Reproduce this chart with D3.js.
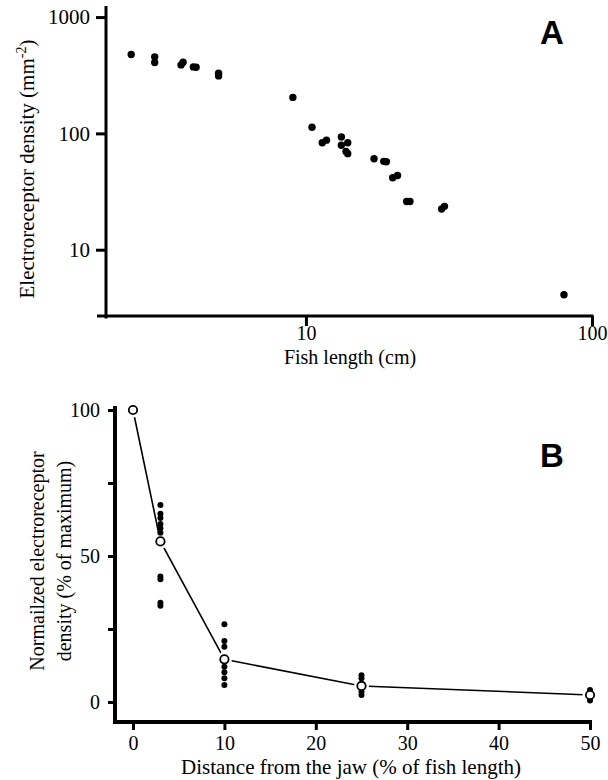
<!DOCTYPE html>
<meta charset="utf-8">
<style>
	body { margin: 0; background: #fff; }
	svg text { font-family: "Liberation Serif", "DejaVu Serif", "Times New Roman", serif; fill: #000; }
	.axis path { display: none; }
	.axis line { stroke: #000; stroke-width: 3px; }
	.axis-line { stroke: #000; }
	svg text.panel { font-family: "Liberation Sans", "DejaVu Sans", Arial, sans-serif; font-weight: bold; font-size: 33px; }
	.mean-line { fill: none; stroke: #000; stroke-width: 1.6px; }
</style>
<svg id="chart" width="608" height="780"></svg>
<script src="https://d3js.org/d3.v7.min.js"></script>
<script>
	// Panel A: receptor density vs fish length (log-log)
	var fishLength = [2.45, 2.96, 2.96, 3.66, 3.72, 4.04, 4.13, 4.95, 4.95, 9.0, 10.5, 11.4, 11.8,
		13.3, 13.3, 14.0, 13.8, 14.0, 17.3, 18.7, 19.1, 20.1, 20.9, 22.5, 23.1, 29.8, 30.5, 79.8];
	var receptorDensity = [477, 455, 407, 388, 409, 373, 370, 329, 312, 204, 113, 83, 87.5,
		93, 79, 83, 70, 67, 60.5, 57.5, 57, 41.5, 43.5, 26, 26, 22.4, 23.6, 4.1];
	var lengthTicks = [10, 100];
	var lengthMinorTicks = [2, 3, 4, 5, 6, 7, 8, 9, 20, 30, 40, 50, 60, 70, 80, 90];
	var densityTicks = [10, 100, 1000];
	var densityMinorTicks = [3, 4, 5, 6, 7, 8, 9, 20, 30, 40, 50, 60, 70, 80, 90, 200, 300, 400, 500, 600, 700, 800, 900];

	// Panel B: normalized density vs distance from jaw
	var distance = [0, 3, 10, 25, 50];
	var meanDensity = [100, 55, 14.6, 5.5, 2.4];
	var fishDensity = [
		[],
		[67.5, 64.5, 63, 61, 59.5, 58, 43, 42, 34, 33],
		[26.6, 20.9, 18.9, 12.1, 10.2, 8.1, 5.8],
		[9.2, 8.1, 3.5, 2.4],
		[4.1, 1.2, 0.5]
	];
	var distanceTicks = [0, 10, 20, 30, 40, 50];
	var normTicks = [0, 25, 50, 75, 100];
	var normLabels = [0, 50, 100];

	var serif = "'Liberation Serif', 'DejaVu Serif', 'Times New Roman', serif";
	var svg = d3.select("#chart");

	// ---------- Panel A ----------
	var xA = d3.scaleLog().domain([2, 100]).range([106, 592]),
		yA = d3.scaleLog().domain([2.64, 1245]).range([317, 6]);
	var axisAY = 316, axisAX = 106;

	var gxA = svg.append("g").attr("class", "axis").attr("transform", "translate(0," + axisAY + ")");
	gxA.call(d3.axisBottom(xA).tickValues(lengthMinorTicks).tickSize(6).tickFormat(""));
	gxA.call(d3.axisBottom(xA).tickValues(lengthTicks).tickSize(10).tickPadding(0).tickFormat(d3.format("d")));

	var gyA = svg.append("g").attr("class", "axis").attr("transform", "translate(" + axisAX + ",0)");
	gyA.call(d3.axisLeft(yA).tickValues(densityMinorTicks).tickSize(6).tickFormat(""));
	gyA.call(d3.axisLeft(yA).tickValues(densityTicks).tickSize(10).tickPadding(6).tickFormat(d3.format("d")));

	svg.selectAll(".axis").attr("font-family", serif);
	gxA.selectAll("text").style("font-family", serif).style("font-size", "20px");
	gyA.selectAll("text").style("font-family", serif).style("font-size", "21px");

	svg.append("line").attr("class", "axis-line")
		.attr("x1", xA.range()[0] - 9).attr("x2", xA.range()[1] + 1.5)
		.attr("y1", axisAY).attr("y2", axisAY)
		.style("stroke-width", 3);
	svg.append("line").attr("class", "axis-line")
		.attr("x1", axisAX).attr("x2", axisAX)
		.attr("y1", yA.range()[1]).attr("y2", yA.range()[0] + 1.5)
		.style("stroke-width", 3);

	svg.append("g").selectAll("circle")
		.data(fishLength)
		.enter().append("circle")
		.attr("cx", function(d) { return xA(d); })
		.attr("cy", function(d, i) { return yA(receptorDensity[i]); })
		.attr("r", 3.7)
		.style("fill", "#000");

	svg.append("text")
		.attr("x", 350).attr("y", 364)
		.attr("text-anchor", "middle")
		.style("font-family", serif)
		.style("font-size", "20px")
		.text("Fish length (cm)");

	var yLabA = svg.append("text")
		.attr("transform", "translate(34,169) rotate(-90)")
		.attr("text-anchor", "middle")
		.style("font-family", serif)
		.style("font-size", "21px");
	yLabA.append("tspan").text("Electroreceptor density (mm");
	yLabA.append("tspan").attr("dy", -8).style("font-size", "14px").text("-2");
	yLabA.append("tspan").attr("dy", 8).text(")");

	svg.append("text").attr("class", "panel")
		.attr("x", 552).attr("y", 44)
		.attr("text-anchor", "middle")
		.text("A");

	// ---------- Panel B ----------
	var xB = d3.scaleLinear().domain([0, 50]).range([133, 590]),
		yB = d3.scaleLinear().domain([0, 100]).range([702, 410]);
	var axisBY = 722, axisBX = 115;

	var gxB = svg.append("g").attr("class", "axis").attr("transform", "translate(0," + axisBY + ")");
	gxB.call(d3.axisBottom(xB).tickValues(distanceTicks).tickSize(8).tickPadding(6));
	gxB.selectAll("text").style("font-family", serif).style("font-size", "20px");

	var gyB = svg.append("g").attr("class", "axis").attr("transform", "translate(" + axisBX + ",0)");
	gyB.call(d3.axisLeft(yB).tickValues(normTicks).tickSize(7).tickPadding(8)
		.tickFormat(function(d) { return normLabels.indexOf(d) >= 0 ? d : ""; }));
	gyB.selectAll("text").style("font-family", serif).style("font-size", "20px");

	svg.append("line").attr("class", "axis-line")
		.attr("x1", axisBX - 2).attr("x2", xB.range()[1] + 2)
		.attr("y1", axisBY).attr("y2", axisBY)
		.style("stroke-width", 4);
	svg.append("line").attr("class", "axis-line")
		.attr("x1", axisBX).attr("x2", axisBX)
		.attr("y1", yB.range()[1] - 4).attr("y2", axisBY + 2)
		.style("stroke-width", 4);

	var line = d3.line()
		.x(function(d, i) { return xB(distance[i]); })
		.y(function(d) { return yB(d); });

	svg.append("path")
		.datum(meanDensity)
		.attr("class", "mean-line")
		.attr("d", line);

	// white halo so the line stops short of each open circle
	svg.append("g").selectAll("circle")
		.data(meanDensity)
		.enter().append("circle")
		.attr("cx", function(d, i) { return xB(distance[i]); })
		.attr("cy", function(d) { return yB(d); })
		.attr("r", 7.5)
		.style("fill", "#fff");

	var pts = [];
	fishDensity.forEach(function(vals, i) {
		vals.forEach(function(v) { pts.push({x: distance[i], y: v}); });
	});

	svg.append("g").selectAll("circle")
		.data(pts)
		.enter().append("circle")
		.attr("cx", function(d) { return xB(d.x); })
		.attr("cy", function(d) { return yB(d.y); })
		.attr("r", 3)
		.style("fill", "#000");

	svg.append("g").selectAll("circle")
		.data(meanDensity)
		.enter().append("circle")
		.attr("cx", function(d, i) { return xB(distance[i]); })
		.attr("cy", function(d) { return yB(d); })
		.attr("r", 4.2)
		.style("fill", "#fff")
		.style("stroke", "#000")
		.style("stroke-width", 1.8);

	svg.append("text")
		.attr("x", 351).attr("y", 774)
		.attr("text-anchor", "middle")
		.style("font-family", serif)
		.style("font-size", "21px")
		.text("Distance from the jaw (% of fish length)");

	svg.append("text")
		.attr("transform", "translate(44,561) rotate(-90)")
		.attr("text-anchor", "middle")
		.style("font-family", serif)
		.style("font-size", "20px")
		.text("Normailzed electroreceptor");
	svg.append("text")
		.attr("transform", "translate(71,561) rotate(-90)")
		.attr("text-anchor", "middle")
		.style("font-family", serif)
		.style("font-size", "20px")
		.text("density (% of maximum)");

	svg.append("text").attr("class", "panel")
		.attr("x", 552).attr("y", 467)
		.attr("text-anchor", "middle")
		.text("B");
</script>
